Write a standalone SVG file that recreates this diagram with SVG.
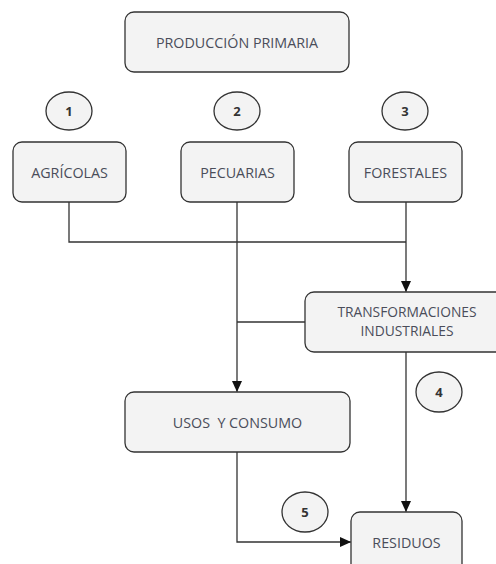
<svg xmlns="http://www.w3.org/2000/svg" width="496" height="564" viewBox="0 0 496 564">
<defs>
<marker id="arr" markerWidth="10" markerHeight="12" refX="11" refY="5" orient="auto" markerUnits="userSpaceOnUse">
<path d="M0,0 L11,5 L0,10 Z" fill="#111"/>
</marker>
<style>
.box{fill:#f3f3f3;stroke:#333;stroke-width:1.3}
.circ{fill:#f3f3f3;stroke:#333;stroke-width:1.3}
.t{font-family:"Open Sans","Noto Sans",sans-serif;font-size:14.3px;fill:#4a4d5a;text-anchor:middle;dominant-baseline:central}
.t2{font-size:13.8px}
.n{font-family:"Open Sans","Noto Sans",sans-serif;font-size:13px;font-weight:bold;fill:#333;text-anchor:middle;dominant-baseline:central}
.c{fill:none;stroke:#333;stroke-width:1.3}
</style>
</defs>
<rect width="496" height="564" fill="#fff"/>
<g id="connectors">
<polyline class="c" points="69,202 69,242 406,242"/>
<line class="c" x1="406" y1="202" x2="406" y2="292" marker-end="url(#arr)"/>
<line class="c" x1="237" y1="202" x2="237" y2="392" marker-end="url(#arr)"/>
<line class="c" x1="305" y1="322" x2="237" y2="322"/>
<line class="c" x1="406" y1="352" x2="406" y2="512" marker-end="url(#arr)"/>
<polyline class="c" points="237,452 237,542 351,542" marker-end="url(#arr)"/>
</g>
<g id="produccion"><rect class="box" x="125" y="12" width="224" height="60" rx="9"/><text class="t" x="237" y="42">PRODUCCIÓN PRIMARIA</text></g>
<g id="n1"><ellipse class="circ" cx="69" cy="111" rx="23" ry="19"/><text class="n" x="69" y="111">1</text></g>
<g id="n2"><ellipse class="circ" cx="237" cy="111" rx="23" ry="19"/><text class="n" x="237" y="111">2</text></g>
<g id="n3"><ellipse class="circ" cx="405" cy="111" rx="23" ry="19"/><text class="n" x="405" y="111">3</text></g>
<g id="agricolas"><rect class="box" x="13" y="142" width="113" height="60" rx="9"/><text class="t" x="69.5" y="172">AGRÍCOLAS</text></g>
<g id="pecuarias"><rect class="box" x="181" y="142" width="113" height="60" rx="9"/><text class="t" x="237.5" y="172">PECUARIAS</text></g>
<g id="forestales"><rect class="box" x="349" y="142" width="113" height="60" rx="9"/><text class="t" x="405.5" y="172">FORESTALES</text></g>
<g id="transformaciones"><rect class="box" x="305" y="292" width="204" height="60" rx="9"/><text class="t t2" x="407" y="311.5">TRANSFORMACIONES</text><text class="t t2" x="407" y="330.5">INDUSTRIALES</text></g>
<g id="n4"><ellipse class="circ" cx="439" cy="392" rx="23" ry="20"/><text class="n" x="439" y="392">4</text></g>
<g id="usos"><rect class="box" x="125" y="392" width="225" height="60" rx="9"/><text class="t" x="237.5" y="422" xml:space="preserve">USOS  Y CONSUMO</text></g>
<g id="n5"><ellipse class="circ" cx="305" cy="512" rx="23" ry="20"/><text class="n" x="305" y="512">5</text></g>
<g id="residuos"><rect class="box" x="351" y="512" width="111" height="70" rx="9"/><text class="t" x="406.5" y="542">RESIDUOS</text></g>
</svg>
